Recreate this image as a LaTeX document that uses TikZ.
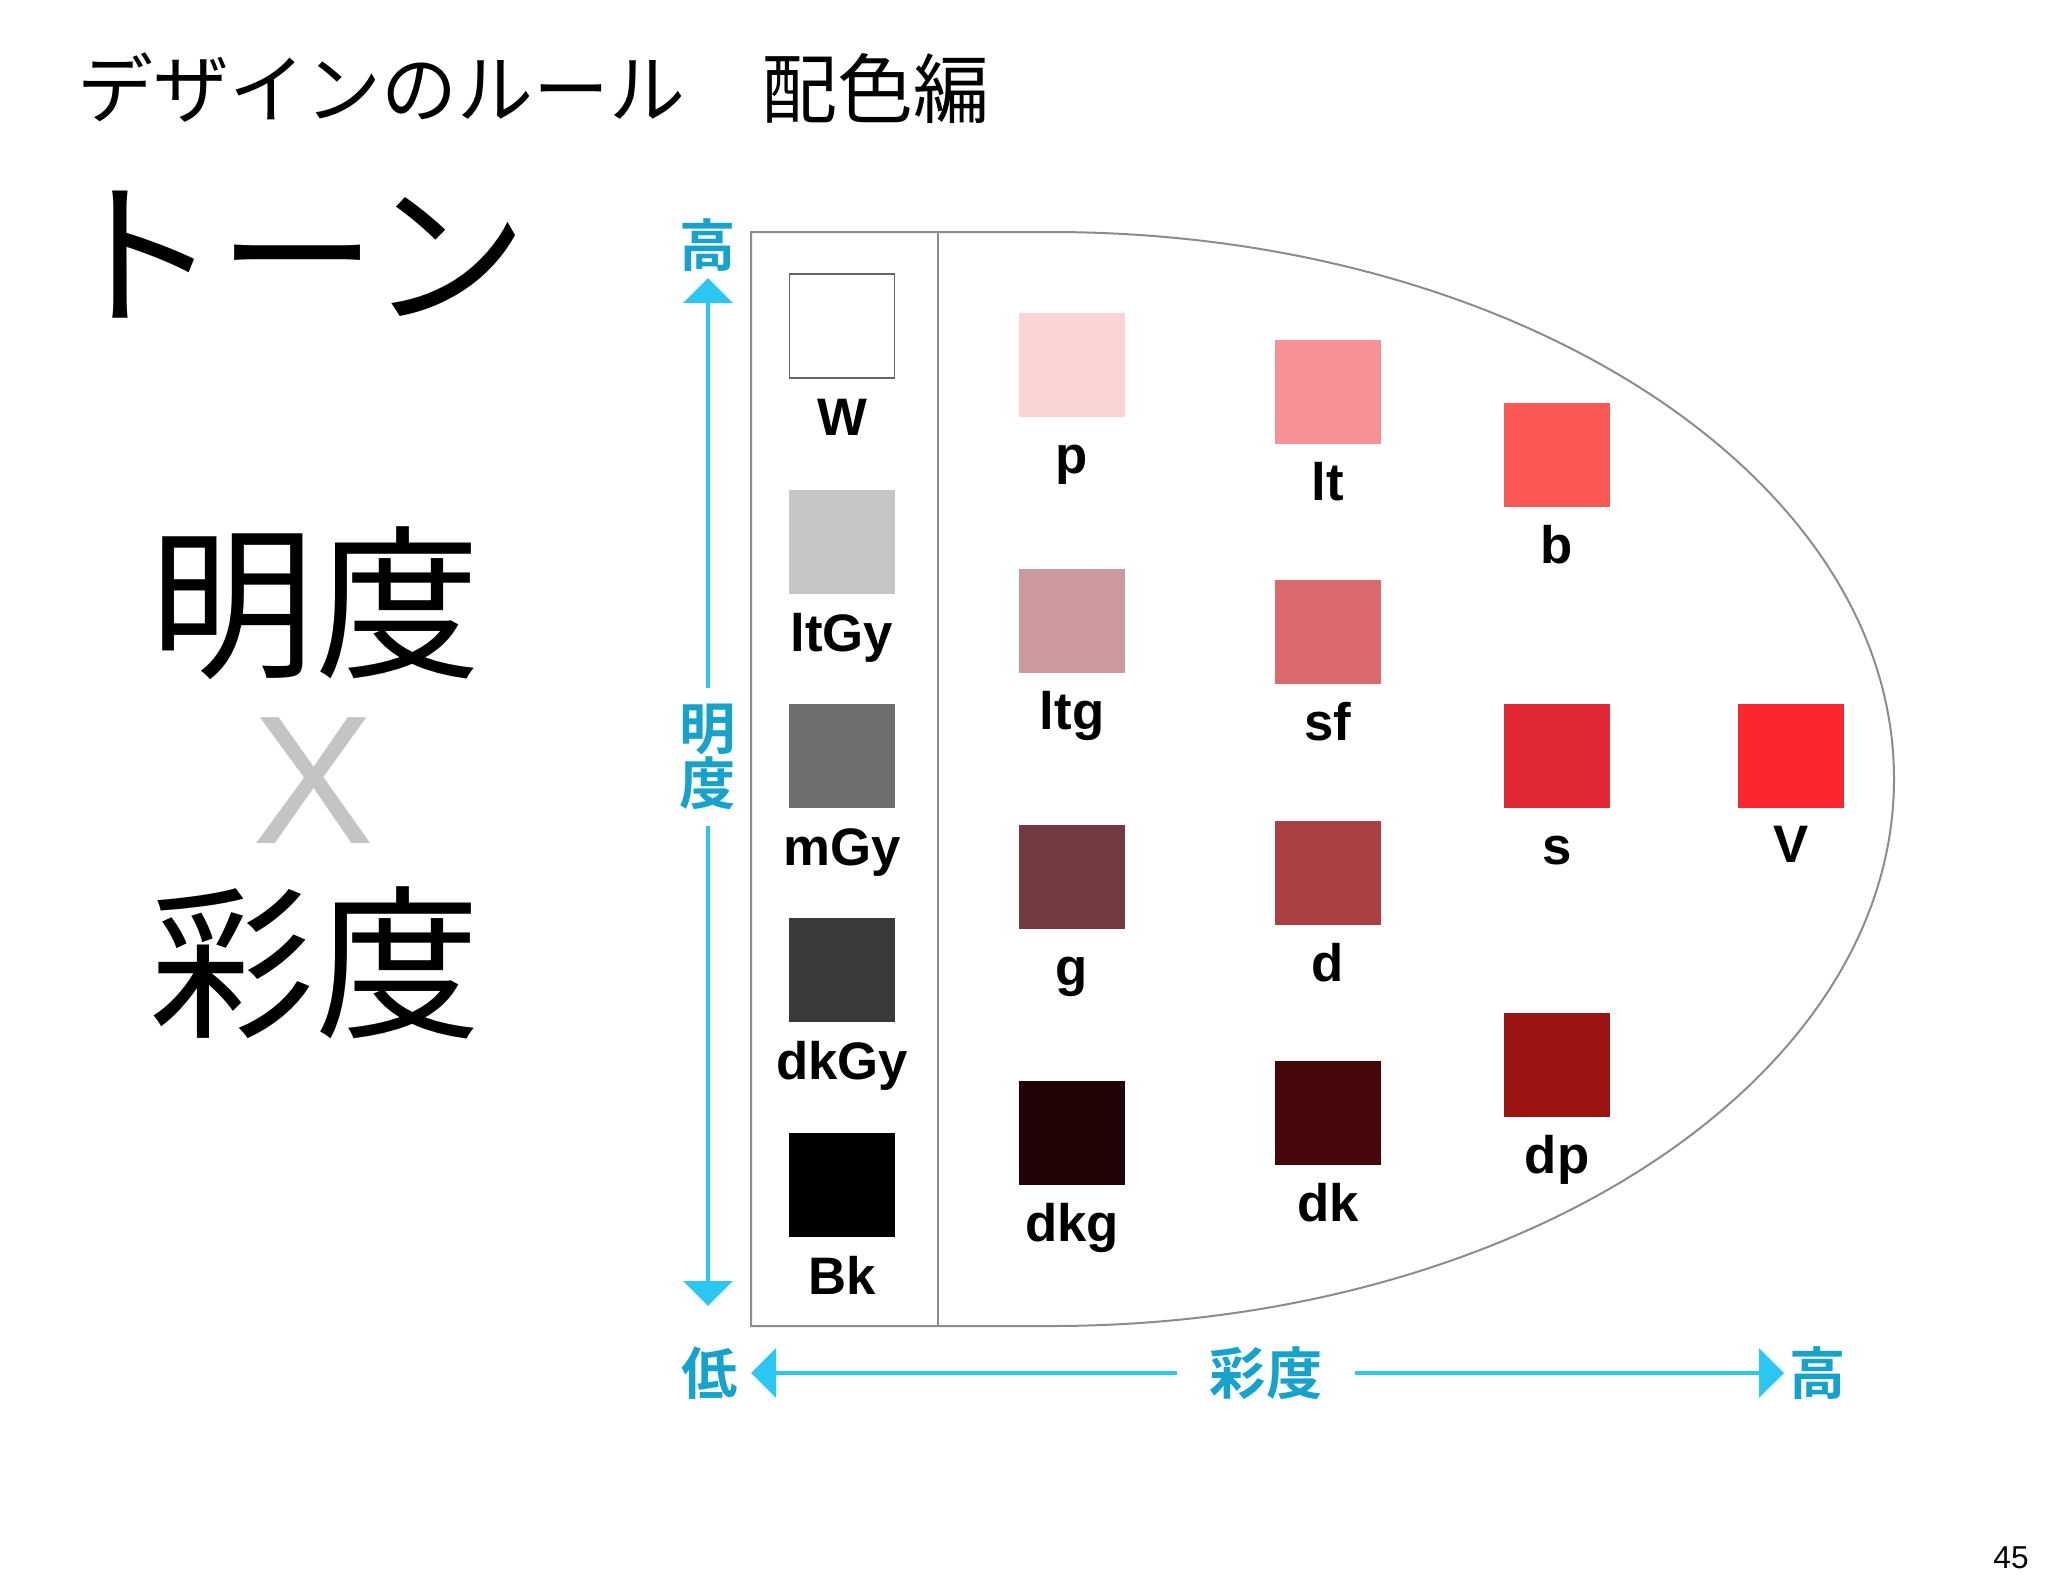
\documentclass[tikz,border=0pt]{standalone}
\usepackage{fontspec}
\setmainfont{Liberation Sans}
\newfontfamily\jp{Noto Sans CJK JP}[BoldFont={Noto Sans CJK JP Bold}]
\usepackage{xcolor}
\usetikzlibrary{arrows.meta,calc}

\definecolor{axisblue}{HTML}{2CC6F3}
\definecolor{axistext}{HTML}{17A2CC}
\definecolor{framegray}{HTML}{8C8C8C}
\definecolor{crossgray}{HTML}{C4C4C4}
% tone colours
\definecolor{cW}{HTML}{FFFFFF}
\definecolor{cltGy}{HTML}{C6C6C8}
\definecolor{cmGy}{HTML}{6E6E70}
\definecolor{cdkGy}{HTML}{3A3A3C}
\definecolor{cBk}{HTML}{000000}
\definecolor{cp}{HTML}{FCD4D6}
\definecolor{cltg}{HTML}{CC9A9E}
\definecolor{cg}{HTML}{733A40}
\definecolor{cdkg}{HTML}{220406}
\definecolor{clt}{HTML}{F99096}
\definecolor{csf}{HTML}{DC6870}
\definecolor{cd}{HTML}{AB4044}
\definecolor{cdk}{HTML}{48070B}
\definecolor{cb}{HTML}{FA5654}
\definecolor{cs}{HTML}{E12834}
\definecolor{cdp}{HTML}{9B1413}
\definecolor{cV}{HTML}{FC2630}

\begin{document}
\begin{tikzpicture}[
    x=0.01cm, y=-0.01cm,
    chip/.style={rectangle, minimum width=1.05cm, minimum height=1.04cm, inner sep=0pt},
    tonelbl/.style={anchor=base, inner sep=0pt, font=\bfseries\fontsize{15}{16}\selectfont},
    axislbl/.style={text=axistext, inner sep=0pt, font=\jp\bfseries\fontsize{16}{15.6}\selectfont},
    axisline/.style={draw=axisblue, line width=0.04cm, -{Triangle[length=0.25cm, width=0.49cm]}},
    frameline/.style={draw=framegray, line width=0.02cm},
]
\useasboundingbox (0,0) rectangle (2048,1587);

% Title
\node[anchor=west, inner sep=0pt, font=\jp\fontsize{21.6}{22}\selectfont] (title) at (77,88) {デザインのルール　配色編};
\node[anchor=west, inner sep=0pt, font=\jp\fontsize{45}{46}\selectfont] (tone) at (60,255) {トーン};

% Lightness x Saturation
\node[font=\jp\fontsize{47}{48}\selectfont] (light) at (315,603) {明度};
\node[text=crossgray, font=\fontsize{52}{52}\selectfont] (cross) at (313,781) {X};
\node[font=\jp\fontsize{47}{48}\selectfont] (sat) at (315,963) {彩度};

% Frame of the tone map
\draw[frameline] (751,232) -- (1051,232)
    arc[start angle=-90, end angle=90, x radius=843, y radius=547] -- (751,1326) -- cycle;
\draw[frameline] (938,232) -- (938,1326);

% Vertical axis
\node[axislbl] (yhigh) at (708,245) {高};
\node[axislbl, align=center, inner ysep=4.3pt] (ymid) at (708,757) {明\\度};
\coordinate (ytop) at (708,278);
\coordinate (ybot) at (708,1306);
\draw[axisline] (ymid) -- (ytop);
\draw[axisline] (ymid) -- (ybot);

% Horizontal axis
\node[axislbl] (xlow) at (710,1373) {低};
\node[axislbl, inner xsep=9pt] (xmid) at (1266,1373) {彩度};
\node[axislbl] (xhigh) at (1818,1373) {高};
\coordinate (xleft) at (751,1373);
\coordinate (xright) at (1784,1373);
\draw[axisline] (xmid) -- (xleft);
\draw[axisline] (xmid) -- (xright);

% Achromatic column
\node[chip, fill=cW, draw=black!60, line width=0.015cm] (W) at (842,326) {};
\node[tonelbl] (Wl) at ($(W.south)+(0,57)$) {W};
\node[chip, fill=cltGy] (ltGy) at (842,542) {};
\node[tonelbl] (ltGyl) at ($(ltGy.south)+(0,57)$) {ltGy};
\node[chip, fill=cmGy] (mGy) at (842,756) {};
\node[tonelbl] (mGyl) at ($(mGy.south)+(0,57)$) {mGy};
\node[chip, fill=cdkGy] (dkGy) at (842,970) {};
\node[tonelbl] (dkGyl) at ($(dkGy.south)+(0,57)$) {dkGy};
\node[chip, fill=cBk] (Bk) at (842,1185) {};
\node[tonelbl] (Bkl) at ($(Bk.south)+(0,57)$) {Bk};

% Chromatic column 1
\node[chip, fill=cp] (p) at (1072,365) {};
\node[tonelbl] (pl) at ($(p.south)+(0,56)$) {p};
\node[chip, fill=cltg] (ltg) at (1072,621) {};
\node[tonelbl] (ltgl) at ($(ltg.south)+(0,56)$) {ltg};
\node[chip, fill=cg] (g) at (1072,877) {};
\node[tonelbl] (gl) at ($(g.south)+(0,56)$) {g};
\node[chip, fill=cdkg] (dkg) at (1072,1133) {};
\node[tonelbl] (dkgl) at ($(dkg.south)+(0,56)$) {dkg};

% Chromatic column 2
\node[chip, fill=clt] (lt) at (1328,392) {};
\node[tonelbl] (ltl) at ($(lt.south)+(0,56)$) {lt};
\node[chip, fill=csf] (sf) at (1328,632) {};
\node[tonelbl] (sfl) at ($(sf.south)+(0,56)$) {sf};
\node[chip, fill=cd] (d) at (1328,873) {};
\node[tonelbl] (dl) at ($(d.south)+(0,56)$) {d};
\node[chip, fill=cdk] (dk) at (1328,1113) {};
\node[tonelbl] (dkl) at ($(dk.south)+(0,56)$) {dk};

% Chromatic column 3
\node[chip, fill=cb] (b) at (1557,455) {};
\node[tonelbl] (bl) at ($(b.south)+(0,56)$) {b};
\node[chip, fill=cs] (s) at (1557,756) {};
\node[tonelbl] (sl) at ($(s.south)+(0,56)$) {s};
\node[chip, fill=cdp] (dp) at (1557,1065) {};
\node[tonelbl] (dpl) at ($(dp.south)+(0,56)$) {dp};

% Vivid
\node[chip, fill=cV] (V) at (1791,756) {};
\node[tonelbl] (Vl) at ($(V.south)+(0,54)$) {V};

% Page number
\node[font=\fontsize{9}{10}\selectfont] (page) at (2011,1558) {45};

\end{tikzpicture}
\end{document}
